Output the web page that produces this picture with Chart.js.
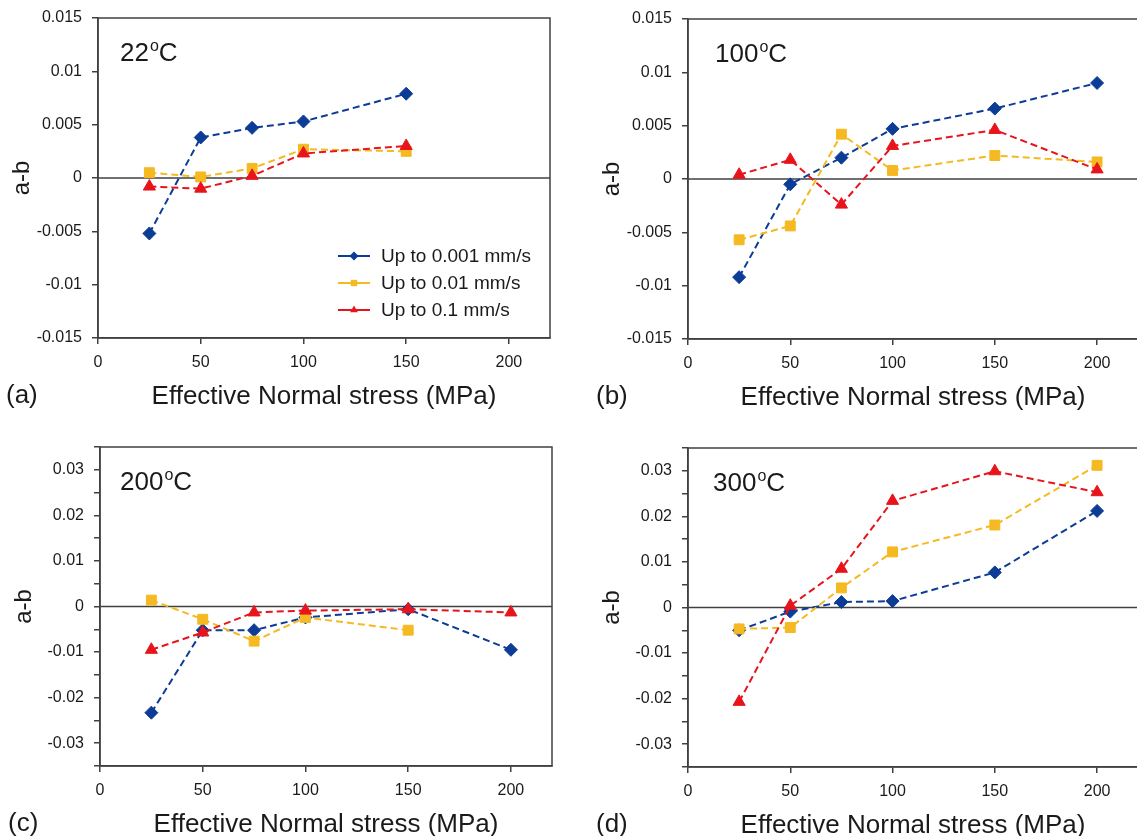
<!DOCTYPE html>
<html>
<head>
<meta charset="utf-8">
<script src="https://cdn.jsdelivr.net/npm/chart.js@4.4.1/dist/chart.umd.min.js"></script>
<style>
  html, body { margin: 0; padding: 0; background: #fff; overflow: hidden; width: 1137px; height: 836px; }
  .panel { position: absolute; }
  canvas { display: block; }
</style>
</head>
<body>
<div class="panel" style="left:0px;top:8px"><canvas id="chart-a" width="558" height="410"></canvas></div>
<div class="panel" style="left:590px;top:9px"><canvas id="chart-b" width="556" height="410"></canvas></div>
<div class="panel" style="left:2px;top:437px"><canvas id="chart-c" width="558" height="409"></canvas></div>
<div class="panel" style="left:590px;top:438px"><canvas id="chart-d" width="556" height="409"></canvas></div>
<script>
// a-b vs effective normal stress, four temperatures, three velocity steps

const seriesNames = ['Up to 0.001 mm/s', 'Up to 0.01 mm/s', 'Up to 0.1 mm/s'];

// tick values
const xTicks = [0, 50, 100, 150, 200];
const yTicksSmall = [-0.015, -0.01, -0.005, 0, 0.005, 0.01, 0.015];
const yTicksLarge = [-0.035, -0.03, -0.025, -0.02, -0.015, -0.01, -0.005, 0, 0.005, 0.01, 0.015, 0.02, 0.025, 0.03, 0.035];
const yLabelsLarge = [-0.03, -0.02, -0.01, 0, 0.01, 0.02, 0.03];

// 22 C
const stress22 = [25, 50, 75, 100, 150];
const ab22_001 = [-0.0052, 0.0038, 0.0047, 0.0053, 0.0079];
const ab22_01 = [0.0005, 0.0001, 0.0009, 0.0027, 0.0025];
const ab22_1 = [-0.0008, -0.001, 0.0002, 0.0023, 0.003];

// 100 C
const stress100 = [25, 50, 75, 100, 150, 200];
const ab100_001 = [-0.0092, -0.0005, 0.002, 0.0047, 0.0066, 0.009];
const ab100_01 = [-0.0057, -0.0044, 0.0042, 0.0008, 0.0022, 0.0016];
const ab100_1 = [0.0004, 0.0018, -0.0024, 0.0031, 0.0046, 0.0009];

// 200 C (no 0.01 mm/s point at 200 MPa)
const stress200 = [25, 50, 75, 100, 150, 200];
const stress200b = [25, 50, 75, 100, 150];
const ab200_001 = [-0.0233, -0.0052, -0.0052, -0.0024, -0.0006, -0.0095];
const ab200_01 = [0.0014, -0.0028, -0.0076, -0.0024, -0.0052];
const ab200_1 = [-0.0095, -0.0057, -0.0013, -0.0009, -0.0006, -0.0013];

// 300 C
const stress300 = [25, 50, 75, 100, 150, 200];
const ab300_001 = [-0.005, -0.0009, 0.0012, 0.0014, 0.0077, 0.0212];
const ab300_01 = [-0.0047, -0.0044, 0.0043, 0.0122, 0.0181, 0.0312];
const ab300_1 = [-0.0207, 0.0004, 0.0085, 0.0234, 0.0299, 0.0253];

const FONT = '"Liberation Sans", Arial, Helvetica, sans-serif';
const INK = '#1a1a1a';
const AXIS = '#404040';

const seriesStyle = [
  { color: '#0c3c96', marker: 'rectRot', radius: 6.5 },
  { color: '#f5b921', marker: 'rect', radius: 7 },
  { color: '#e8141c', marker: 'triangle', radius: 7 },
];

Chart.defaults.font.family = FONT;
Chart.defaults.color = INK;

function series(xs, ys, i) {
  const s = seriesStyle[i];
  return {
    label: seriesNames[i],
    data: xs.map((x, k) => ({ x, y: ys[k] })),
    showLine: true,
    borderColor: s.color,
    backgroundColor: s.color,
    borderWidth: 2,
    borderDash: [7, 4],
    pointStyle: s.marker,
    pointRadius: s.radius,
    pointBackgroundColor: s.color,
    pointBorderColor: s.color,
    pointBorderWidth: 1,
    order: 2 - i, // red on top, blue underneath
  };
}

function fmt(v) {
  return String(Number(v.toFixed(3)));
}

// frame round the plot and the zero line
const framePlugin = {
  id: 'frame',
  beforeDatasetsDraw(chart) {
    const { ctx, chartArea: a } = chart;
    const y0 = chart.scales.y.getPixelForValue(0);
    ctx.save();
    ctx.strokeStyle = AXIS;
    ctx.lineWidth = 1.5;
    ctx.beginPath();
    ctx.moveTo(a.left, y0);
    ctx.lineTo(a.right, y0);
    ctx.stroke();
    ctx.strokeRect(a.left, a.top, a.right - a.left, a.bottom - a.top);
    ctx.restore();
  }
};

// temperature label, panel letter and (panel a only) the legend
const panelTextPlugin = {
  id: 'panelText',
  afterDraw(chart, args, opts) {
    const { ctx, chartArea: a } = chart;
    ctx.save();
    ctx.fillStyle = INK;
    ctx.textAlign = 'left';
    ctx.textBaseline = 'alphabetic';
    let x = a.left + opts.dx;
    const y = a.top + 43;
    ctx.font = '26px ' + FONT;
    ctx.fillText(opts.temp, x, y);
    x += ctx.measureText(opts.temp).width + 1;
    ctx.font = '16px ' + FONT;
    ctx.fillText('o', x, y - 10);
    x += ctx.measureText('o').width;
    ctx.font = '26px ' + FONT;
    ctx.fillText('C', x, y);

    ctx.textBaseline = 'middle';
    ctx.fillText(opts.letter, a.left - 92, a.bottom + 58);

    if (opts.legend) {
      ctx.font = '19px ' + FONT;
      chart.data.datasets.forEach((ds, i) => {
        const ly = a.top + 238 + i * 27;
        ctx.strokeStyle = ds.borderColor;
        ctx.fillStyle = ds.borderColor;
        ctx.lineWidth = 2;
        ctx.setLineDash([]);
        ctx.beginPath();
        ctx.moveTo(a.left + 240, ly);
        ctx.lineTo(a.left + 272, ly);
        ctx.stroke();
        Chart.helpers.drawPoint(ctx, { pointStyle: ds.pointStyle, radius: 4.5, rotation: 0, borderWidth: 0 }, a.left + 256, ly);
        ctx.fillStyle = INK;
        ctx.fillText(ds.label, a.left + 283, ly + 1);
      });
    }
    ctx.restore();
  }
};

function makeChart(id, datasets, yRange, yTicks, showLabel, panel) {
  return new Chart(document.getElementById(id), {
    type: 'scatter',
    data: { datasets },
    plugins: [framePlugin, panelTextPlugin],
    options: {
      responsive: false,
      animation: false,
      layout: { padding: { top: 10, right: 3, left: 0, bottom: 0 } },
      plugins: {
        legend: { display: false },
        tooltip: { enabled: false },
        panelText: panel,
      },
      scales: {
        x: {
          type: 'linear',
          min: 0,
          max: 220,
          afterBuildTicks: s => { s.ticks = xTicks.map(v => ({ value: v })); },
          afterFit: s => { s.height = 80; s.paddingLeft = 0; s.paddingRight = 0; },
          grid: { drawOnChartArea: false, drawTicks: true, tickLength: 6, color: AXIS, lineWidth: 1.5 },
          border: { display: true, color: AXIS, width: 1.5 },
          ticks: { padding: 9, autoSkip: false, maxRotation: 0, font: { size: 16 }, color: INK, callback: v => String(v) },
          title: { display: true, text: 'Effective Normal stress (MPa)', font: { size: 26 }, color: INK, padding: { top: 0, bottom: 6 } },
        },
        y: {
          type: 'linear',
          min: yRange[0],
          max: yRange[1],
          afterBuildTicks: s => { s.ticks = yTicks.map(v => ({ value: v })); },
          afterFit: s => { s.width = 98; s.paddingTop = 0; s.paddingBottom = 0; },
          grid: { drawOnChartArea: false, drawTicks: true, tickLength: 6, color: AXIS, lineWidth: 1.5 },
          border: { display: true, color: AXIS, width: 1.5 },
          ticks: { padding: 10, autoSkip: false, font: { size: 16 }, color: INK, callback: v => (showLabel(v) ? fmt(v) : '') },
          title: { display: true, text: 'a-b', font: { size: 24 }, color: INK, padding: { top: 8, bottom: 0 } },
        },
      },
    },
  });
}

const allLabels = () => true;
const majorLabels = v => yLabelsLarge.some(t => Math.abs(t - v) < 1e-9);

makeChart('chart-a',
  [series(stress22, ab22_001, 0), series(stress22, ab22_01, 1), series(stress22, ab22_1, 2)],
  [-0.015, 0.015], yTicksSmall, allLabels,
  { temp: '22', dx: 22, letter: '(a)', legend: true });

makeChart('chart-b',
  [series(stress100, ab100_001, 0), series(stress100, ab100_01, 1), series(stress100, ab100_1, 2)],
  [-0.015, 0.015], yTicksSmall, allLabels,
  { temp: '100', dx: 27, letter: '(b)', legend: false });

makeChart('chart-c',
  [series(stress200, ab200_001, 0), series(stress200b, ab200_01, 1), series(stress200, ab200_1, 2)],
  [-0.035, 0.035], yTicksLarge, majorLabels,
  { temp: '200', dx: 20, letter: '(c)', legend: false });

makeChart('chart-d',
  [series(stress300, ab300_001, 0), series(stress300, ab300_01, 1), series(stress300, ab300_1, 2)],
  [-0.035, 0.035], yTicksLarge, majorLabels,
  { temp: '300', dx: 25, letter: '(d)', legend: false });
</script>
</body>
</html>
